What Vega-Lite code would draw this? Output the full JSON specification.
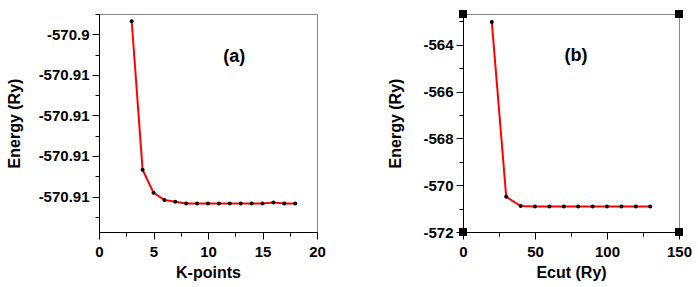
{
  "$schema": "https://vega.github.io/schema/vega-lite/v6.json",
  "background": "white",
  "padding": {"left": 5, "top": 9, "right": 5, "bottom": 5},
  "spacing": 146,
  "bounds": "flush",
  "config": {
    "font": "Liberation Sans",
    "view": {"stroke": "#888888", "strokeWidth": 1},
    "axis": {
      "labelFont": "Liberation Sans", "labelFontSize": 15, "labelFontWeight": "bold", "labelColor": "black",
      "titleFont": "Liberation Sans", "titleFontSize": 16, "titleFontWeight": "bold", "titleColor": "black",
      "domainColor": "black", "tickColor": "black", "tickSize": 7, "labelPadding": 3, "grid": false, "labelOverlap": false, "labelFlush": false
    }
  },
  "datasets": {
    "kpts": [
      {"k": 3, "e": -570.90336},
      {"k": 4, "e": -570.91068},
      {"k": 5, "e": -570.91181},
      {"k": 6, "e": -570.91217},
      {"k": 7, "e": -570.91226},
      {"k": 8, "e": -570.91235},
      {"k": 9, "e": -570.91235},
      {"k": 10, "e": -570.91235},
      {"k": 11, "e": -570.91235},
      {"k": 12, "e": -570.91235},
      {"k": 13, "e": -570.91235},
      {"k": 14, "e": -570.91235},
      {"k": 15, "e": -570.91235},
      {"k": 16, "e": -570.91229},
      {"k": 17, "e": -570.91235},
      {"k": 18, "e": -570.91235}
    ],
    "ecut": [
      {"c": 20, "e": -563.02},
      {"c": 30, "e": -570.49},
      {"c": 40, "e": -570.89},
      {"c": 50, "e": -570.91},
      {"c": 60, "e": -570.91},
      {"c": 70, "e": -570.91},
      {"c": 80, "e": -570.91},
      {"c": 90, "e": -570.91},
      {"c": 100, "e": -570.91},
      {"c": 110, "e": -570.91},
      {"c": 120, "e": -570.91},
      {"c": 130, "e": -570.91}
    ],
    "corners": [
      {"c": 0, "e": -572},
      {"c": 150, "e": -572},
      {"c": 0, "e": -562.68},
      {"c": 150, "e": -562.68}
    ]
  },
  "hconcat": [
    {
      "width": 218,
      "height": 218,
      "resolve": {"axis": {"x": "independent", "y": "independent"}},
      "layer": [
        {
          "data": {"name": "kpts"},
          "mark": {"type": "line", "color": "#ff0000", "strokeWidth": 2},
          "encoding": {
            "x": {"field": "k", "type": "quantitative", "title": "K-points",
              "scale": {"domain": [0, 20], "nice": false},
              "axis": {"orient": "bottom", "values": [0, 5, 10, 15, 20], "labelPadding": 5, "titlePadding": 5}},
            "y": {"field": "e", "type": "quantitative", "title": "Energy (Ry)",
              "scale": {"domain": [-570.91375, -570.903], "nice": false, "zero": false},
              "axis": {"orient": "left", "values": [-570.904, -570.906, -570.908, -570.91, -570.912], "format": ".2~f",
                "labelExpr": "replace(datum.label, '\u2212', '-')", "titlePadding": 16}}
          }
        },
        {
          "data": {"name": "kpts"},
          "mark": {"type": "point", "filled": true, "color": "black", "size": 16, "opacity": 1},
          "encoding": {
            "x": {"field": "k", "type": "quantitative",
              "axis": {"orient": "bottom", "values": [2.5, 7.5, 12.5, 17.5], "tickSize": 4, "labels": false, "domain": false, "title": null}},
            "y": {"field": "e", "type": "quantitative",
              "axis": {"orient": "left", "values": [-570.903, -570.905, -570.907, -570.909, -570.911, -570.913], "tickSize": 4, "labels": false, "domain": false, "title": null}}
          }
        },
        {
          "data": {"values": [{"x": 12.4, "y": -570.9051, "t": "(a)"}]},
          "mark": {"type": "text", "fontSize": 18, "fontWeight": "bold", "font": "Liberation Sans", "color": "black"},
          "encoding": {
            "x": {"field": "x", "type": "quantitative", "axis": null},
            "y": {"field": "y", "type": "quantitative", "axis": null},
            "text": {"field": "t"}
          }
        }
      ]
    },
    {
      "width": 216,
      "height": 218,
      "resolve": {"axis": {"x": "independent", "y": "independent"}},
      "layer": [
        {
          "data": {"name": "ecut"},
          "mark": {"type": "line", "color": "#ff0000", "strokeWidth": 2},
          "encoding": {
            "x": {"field": "c", "type": "quantitative", "title": "Ecut (Ry)",
              "scale": {"domain": [0, 150], "nice": false},
              "axis": {"orient": "bottom", "values": [0, 50, 100, 150], "labelPadding": 5, "titlePadding": 5}},
            "y": {"field": "e", "type": "quantitative", "title": "Energy (Ry)",
              "scale": {"domain": [-572, -562.68], "nice": false, "zero": false},
              "axis": {"orient": "left", "values": [-572, -570, -568, -566, -564],
                "labelExpr": "replace(datum.label, '\u2212', '-')", "titlePadding": 19}}
          }
        },
        {
          "data": {"name": "ecut"},
          "mark": {"type": "point", "filled": true, "color": "black", "size": 16, "opacity": 1},
          "encoding": {
            "x": {"field": "c", "type": "quantitative",
              "axis": {"orient": "bottom", "values": [25, 75, 125], "tickSize": 4, "labels": false, "domain": false, "title": null}},
            "y": {"field": "e", "type": "quantitative",
              "axis": {"orient": "left", "values": [-571, -569, -567, -565, -563], "tickSize": 4, "labels": false, "domain": false, "title": null}}
          }
        },
        {
          "data": {"name": "corners"},
          "mark": {"type": "point", "shape": "square", "filled": true, "color": "black", "size": 64, "opacity": 1},
          "encoding": {
            "x": {"field": "c", "type": "quantitative", "axis": null},
            "y": {"field": "e", "type": "quantitative", "axis": null}
          }
        },
        {
          "data": {"values": [{"x": 78.5, "y": -564.48, "t": "(b)"}]},
          "mark": {"type": "text", "fontSize": 18, "fontWeight": "bold", "font": "Liberation Sans", "color": "black"},
          "encoding": {
            "x": {"field": "x", "type": "quantitative", "axis": null},
            "y": {"field": "y", "type": "quantitative", "axis": null},
            "text": {"field": "t"}
          }
        }
      ]
    }
  ]
}
